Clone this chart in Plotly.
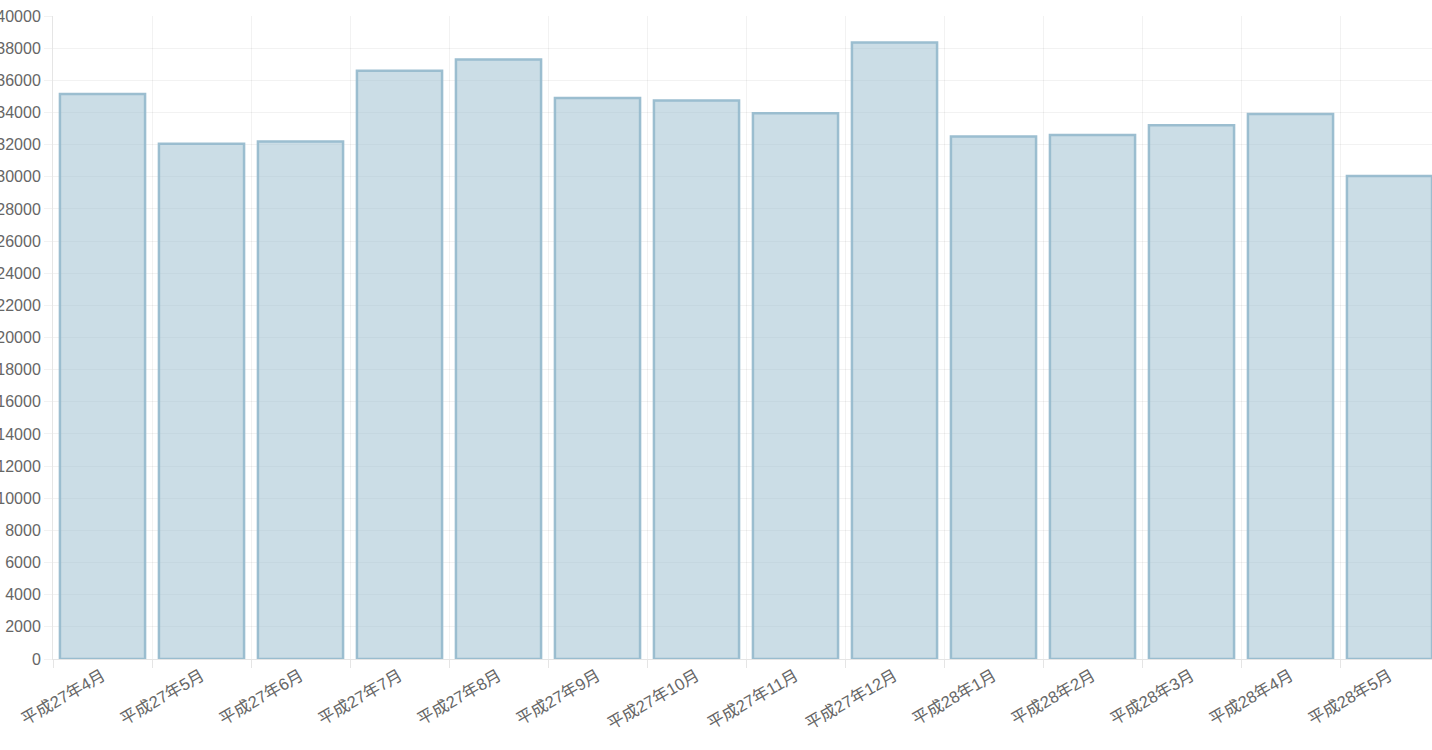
import plotly.graph_objects as go

categories = ["平成27年4月", "平成27年5月", "平成27年6月", "平成27年7月", "平成27年8月",
              "平成27年9月", "平成27年10月", "平成27年11月", "平成27年12月", "平成28年1月",
              "平成28年2月", "平成28年3月", "平成28年4月", "平成28年5月"]
values = [35150, 32050, 32200, 36600, 37300, 34900, 34750, 33950, 38350, 32500,
          32600, 33200, 33900, 30050]
y_ticks = list(range(0, 40001, 2000))

FONT = "Arial, 'Liberation Sans', 'Noto Sans CJK JP', sans-serif"

fig = go.Figure(go.Bar(
    x=categories,
    y=values,
    marker=dict(color="rgba(151,187,205,0.5)",
                line=dict(color="rgba(151,187,205,0.95)", width=2.5)),
))

fig.update_layout(
    width=1432, height=750,
    margin=dict(l=53, r=0, t=16, b=91, autoexpand=False),
    paper_bgcolor="white", plot_bgcolor="white",
    bargap=0.14,
    showlegend=False,
    font=dict(family=FONT, size=16, color="#666666"),
)
fig.update_xaxes(
    type="category",
    automargin=False,
    range=[-0.5, 13.5 - 7 / 99],
    tickson="boundaries",
    showgrid=True, gridcolor="rgba(0,0,0,0.05)", gridwidth=1,
    ticks="outside", ticklen=8, tickcolor="rgba(0,0,0,0.1)",
    showline=True, linecolor="rgba(0,0,0,0.1)", linewidth=1,
    tickangle=-30,
    tickfont=dict(family=FONT, size=16.5, color="#666666"),
)
fig.update_yaxes(
    automargin=False,
    range=[0, 40000],
    tickvals=y_ticks,
    ticktext=[str(v) for v in y_ticks],
    showgrid=True, gridcolor="rgba(0,0,0,0.05)", gridwidth=1,
    ticks="outside", ticklen=8, tickcolor="rgba(0,0,0,0.05)",
    showline=True, linecolor="rgba(0,0,0,0.1)", linewidth=1,
    zeroline=False,
    tickfont=dict(family=FONT, size=16, color="#666666"),
)

fig.write_html(
    "out.html",
    config={"displayModeBar": False},
    post_script="document.body.style.margin='0';document.body.style.overflow='hidden';",
)
